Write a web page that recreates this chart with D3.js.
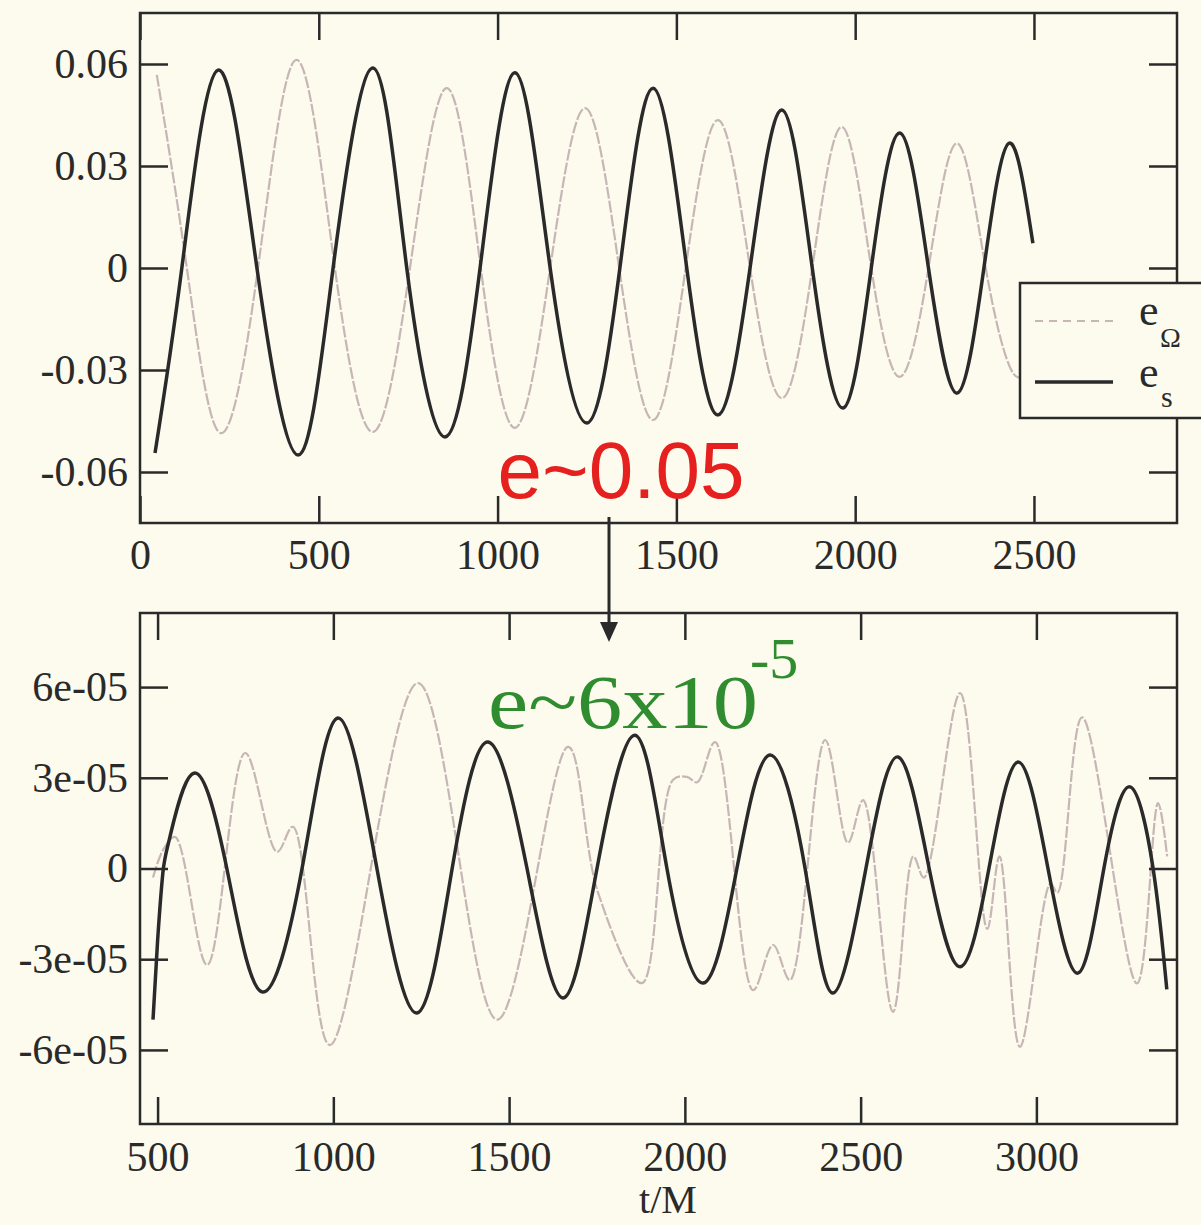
<!DOCTYPE html>
<html>
<head>
<meta charset="utf-8">
<title>e_Omega and e_s versus t/M</title>
<style>
  body { margin: 0; background: #fcfbee; }
  svg { display: block; }
  .tick text { font-family: "Liberation Serif", "DejaVu Serif", serif; font-size: 42px; fill: #2a2a2a; }
  .tick line { stroke: #2a2a2a; stroke-width: 2.5; }
</style>
</head>
<body>
<div id="chart"></div>
<script src="https://d3js.org/d3.v7.min.js"></script>
<script>
// ---- top panel (e ~ 0.05) ----
var topXTicks = [0, 500, 1000, 1500, 2000, 2500];
var topXLabels = ["0", "500", "1000", "1500", "2000", "2500"];
var topYTicks = [0.06, 0.03, 0, -0.03, -0.06];
var topYLabels = ["0.06", "0.03", "0", "-0.03", "-0.06"];

// e_s, solid black
var topSt = [42, 117, 218, 327, 442, 540, 652, 746, 853, 951, 1049, 1147, 1250, 1342, 1435, 1529,
             1617, 1706, 1795, 1880, 1966, 2045, 2125, 2205, 2285, 2360, 2430, 2497];
var topSe = [-0.0544, 0, 0.0582, 0, -0.055, 0, 0.0588, 0, -0.0497, 0, 0.0574, 0, -0.0456, 0, 0.0529, 0,
             -0.0432, 0, 0.0465, 0, -0.0412, 0, 0.0397, 0, -0.0368, 0, 0.0367, 0.0073];

// e_Omega, light dashed
var topOt = [47, 131, 224, 330, 438, 545, 652, 755, 858, 953, 1049, 1147, 1245, 1340, 1435, 1526,
             1617, 1706, 1795, 1880, 1963, 2045, 2125, 2205, 2285, 2365, 2442, 2497];
var topOe = [0.0568, 0, -0.0485, 0, 0.0612, 0, -0.0482, 0, 0.0529, 0, -0.047, 0, 0.047, 0, -0.0447, 0,
             0.0435, 0, -0.0383, 0, 0.0415, 0, -0.032, 0, 0.0367, 0, -0.031, -0.025];

// ---- bottom panel (e ~ 6x10^-5), values in units of 1e-5 ----
var botXTicks = [500, 1000, 1500, 2000, 2500, 3000];
var botXLabels = ["500", "1000", "1500", "2000", "2500", "3000"];
var botYTicks = [6, 3, 0, -3, -6];
var botYLabels = ["6e-05", "3e-05", "0", "-3e-05", "-6e-05"];

var botSt = [487, 500, 515, 535, 606, 697, 797, 911, 1013, 1124, 1238, 1338, 1440, 1551, 1653, 1750,
             1858, 1949, 2052, 2148, 2242, 2342, 2421, 2515, 2606, 2695, 2783, 2865, 2948, 3033,
             3118, 3192, 3266, 3332, 3371];
var botSe = [-5.0, -2.4, -0.15, 1.04, 3.16, 0, -4.08, 0, 4.98, 0, -4.78, 0, 4.18, 0, -4.28, 0,
             4.41, 0, -3.79, 0, 3.75, 0, -4.12, 0, 3.69, 0, -3.25, 0, 3.52, 0,
             -3.46, 0, 2.7, 0, -4.0];

var botOt = [487, 515, 550, 641, 749, 840, 885, 990, 1241, 1466, 1668, 1753, 1878, 1966, 2006, 2035,
             2086, 2194, 2251, 2299, 2399, 2464, 2507, 2592, 2650, 2680, 2783, 2860, 2895, 2953,
             3040, 3060, 3130, 3286, 3346, 3372];
var botOe = [-0.3, 0.6, 1.04, -3.19, 3.82, 0.55, 1.38, -5.84, 6.13, -5.0, 4.02, -0.8, -3.79, 2.93, 3.03, 2.85,
             4.18, -4.02, -2.53, -3.69, 4.25, 0.85, 2.26, -4.74, 0.4, -0.3, 5.8, -2.0, 0.4, -5.9,
             -0.5, -0.8, 5.0, -3.8, 2.16, 0.4];

var W = 1201, H = 1225;
var bg = "#fcfbee", ink = "#2a2a2a", lightInk = "#c7b6b6";

var svg = d3.select("#chart").append("svg")
    .attr("width", W)
    .attr("height", H);

svg.append("rect").attr("width", W).attr("height", H).attr("fill", bg);

function zip(a, b) { return a.map(function (v, i) { return [v, b[i]]; }); }

function panel(o) {
    var x = d3.scaleLinear().domain(o.xDomain).range([o.left, o.right]);
    var y = d3.scaleLinear().domain(o.yDomain).range([o.bottom, o.top]);
    var g = svg.append("g");

    g.append("path")
        .datum(zip(o.omegaT, o.omegaE))
        .attr("fill", "none")
        .attr("stroke", lightInk)
        .attr("stroke-width", 2.2)
        .attr("stroke-dasharray", "12,2")
        .attr("d", d3.line().curve(o.omegaCurve)
            .x(function (d) { return x(d[0]); })
            .y(function (d) { return y(d[1]); }));

    g.append("path")
        .datum(zip(o.sT, o.sE))
        .attr("fill", "none")
        .attr("stroke", ink)
        .attr("stroke-width", 3.5)
        .attr("d", d3.line().curve(d3.curveNatural)
            .x(function (d) { return x(d[0]); })
            .y(function (d) { return y(d[1]); }));

    g.append("g")
        .attr("transform", "translate(0," + o.bottom + ")")
        .call(d3.axisBottom(x).tickValues(o.xTicks)
            .tickFormat(function (d, i) { return o.xLabels[i]; })
            .tickSize(-27).tickSizeOuter(0).tickPadding(o.xPad));
    g.append("g")
        .attr("transform", "translate(0," + o.top + ")")
        .call(d3.axisTop(x).tickValues(o.xTicks).tickFormat("")
            .tickSize(-27).tickSizeOuter(0));
    g.append("g")
        .attr("transform", "translate(" + o.left + ",0)")
        .call(d3.axisLeft(y).tickValues(o.yTicks)
            .tickFormat(function (d, i) { return o.yLabels[i]; })
            .tickSize(-28).tickSizeOuter(0).tickPadding(12));
    g.append("g")
        .attr("transform", "translate(" + o.right + ",0)")
        .call(d3.axisRight(y).tickValues(o.yTicks).tickFormat("")
            .tickSize(-28).tickSizeOuter(0));
    g.selectAll(".domain").remove();

    g.append("rect")
        .attr("x", o.left).attr("y", o.top)
        .attr("width", o.right - o.left).attr("height", o.bottom - o.top)
        .attr("fill", "none").attr("stroke", ink).attr("stroke-width", 2.5);
    return g;
}

panel({
    left: 140, right: 1177, top: 13, bottom: 523,
    xDomain: [0, 2900], yDomain: [-0.075, 0.075],
    xTicks: topXTicks, xLabels: topXLabels, yTicks: topYTicks, yLabels: topYLabels,
    sT: topSt, sE: topSe, omegaT: topOt, omegaE: topOe,
    omegaCurve: d3.curveNatural, xPad: 16
});

panel({
    left: 140, right: 1177, top: 613, bottom: 1124,
    xDomain: [450, 3400], yDomain: [-8.45, 8.45],
    xTicks: botXTicks, xLabels: botXLabels, yTicks: botYTicks, yLabels: botYLabels,
    sT: botSt, sE: botSe, omegaT: botOt, omegaE: botOe,
    omegaCurve: d3.curveCatmullRom.alpha(0.5), xPad: 17
});

// legend (top panel, runs off the right edge)
var lg = svg.append("g");
lg.append("rect")
    .attr("x", 1020).attr("y", 283).attr("width", 200).attr("height", 135)
    .attr("fill", bg).attr("stroke", ink).attr("stroke-width", 2.5);
lg.append("line")
    .attr("x1", 1035).attr("x2", 1113).attr("y1", 321).attr("y2", 321)
    .attr("stroke", lightInk).attr("stroke-width", 2.2).attr("stroke-dasharray", "8,6");
lg.append("line")
    .attr("x1", 1035).attr("x2", 1113).attr("y1", 382).attr("y2", 382)
    .attr("stroke", ink).attr("stroke-width", 3.5);

var serif = "'Liberation Serif', 'DejaVu Serif', serif";
lg.append("text").attr("x", 1139).attr("y", 325)
    .attr("font-family", serif).attr("font-size", 44).attr("fill", ink).text("e");
lg.append("text").attr("x", 1160).attr("y", 347)
    .attr("font-family", serif).attr("font-size", 28).attr("fill", ink).text("Ω");
lg.append("text").attr("x", 1139).attr("y", 387)
    .attr("font-family", serif).attr("font-size", 44).attr("fill", ink).text("e");
lg.append("text").attr("x", 1161).attr("y", 407)
    .attr("font-family", serif).attr("font-size", 30).attr("fill", ink).text("s");

// x axis title
svg.append("text")
    .attr("x", 668).attr("y", 1213)
    .attr("text-anchor", "middle")
    .attr("font-family", serif).attr("font-size", 40).attr("fill", ink)
    .text("t/M");

// annotations
svg.append("text")
    .attr("x", 621).attr("y", 498)
    .attr("text-anchor", "middle")
    .attr("font-family", "'Liberation Sans', Arial, sans-serif")
    .attr("font-size", 80)
    .attr("fill", "#e5201e")
    .text("e~0.05");

svg.append("line")
    .attr("x1", 609).attr("x2", 609).attr("y1", 517).attr("y2", 626)
    .attr("stroke", ink).attr("stroke-width", 3);
svg.append("path")
    .attr("d", "M600,622 L618,622 L609,642 Z")
    .attr("fill", ink);

svg.append("text")
    .attr("x", 488).attr("y", 728)
    .attr("font-family", serif).attr("font-size", 76)
    .attr("textLength", 270).attr("lengthAdjust", "spacingAndGlyphs")
    .attr("fill", "#2f8c2f")
    .text("e~6x10");
svg.append("text")
    .attr("x", 750).attr("y", 678)
    .attr("font-family", serif).attr("font-size", 58)
    .attr("fill", "#2f8c2f")
    .text("-5");
</script>
</body>
</html>
